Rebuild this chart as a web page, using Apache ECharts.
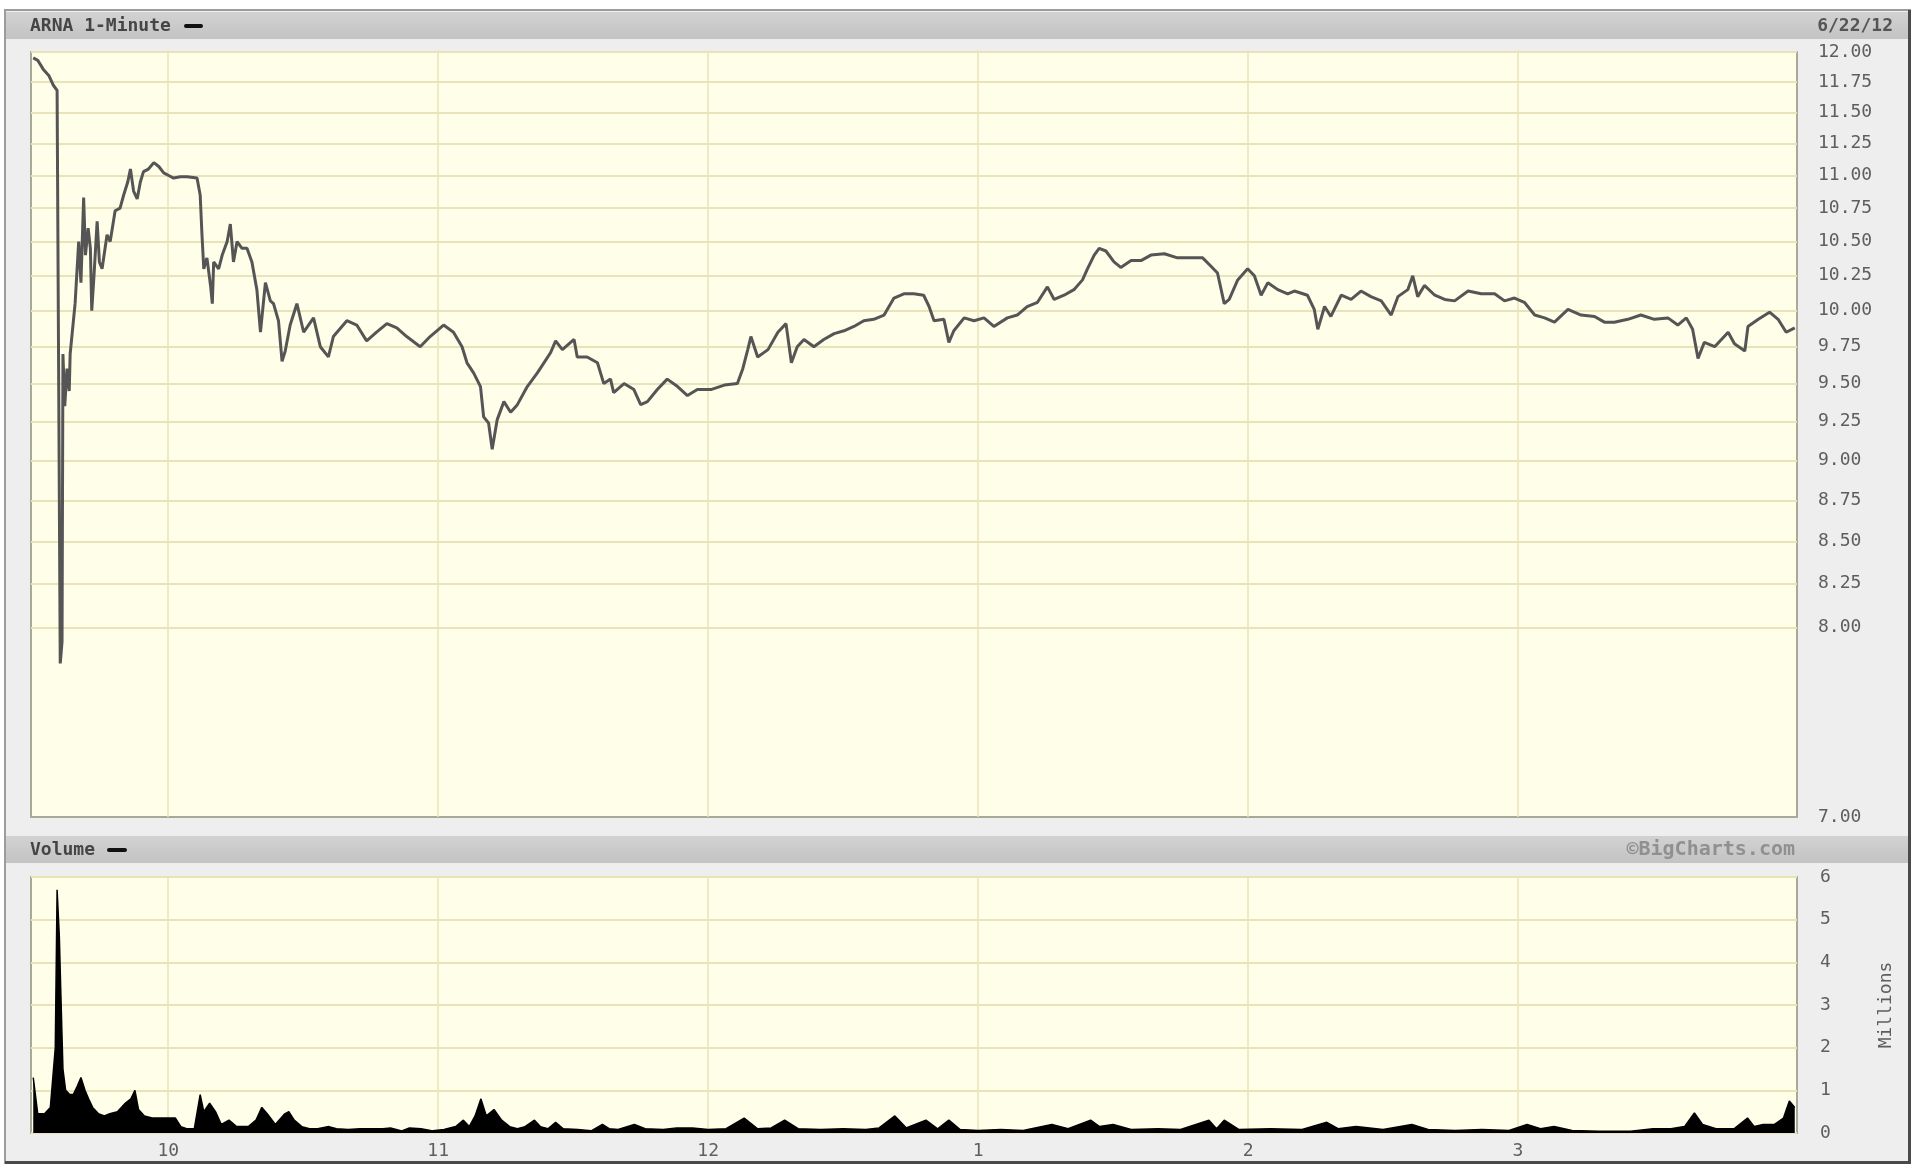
<!DOCTYPE html>
<html><head><meta charset="utf-8">
<script src="https://cdn.jsdelivr.net/npm/echarts@6/dist/echarts.min.js"></script>
<style>html,body{margin:0;padding:0;background:#fff}#c{width:1920px;height:1173px}</style>
</head><body><div id="c"></div>
<script>
// minutes after 9:30 and last price (USD)
const priceMinutes = [0,1,2.3,3.5,4.5,5.3,6,6.4,6.6,7,7.5,8,8.2,9.3,10.1,10.6,11.2,11.6,12.2,12.7,13,13.5,14.2,14.7,15.3,16.4,17.1,18.2,19.3,20.1,21,21.6,22.3,23.1,23.8,24.5,25.6,26.8,27.9,29,30.1,31.2,32.7,34.2,36.4,37.1,37.5,37.9,38.6,39.4,39.8,40.1,41.2,42,43.1,43.8,44.5,45.3,46.4,47.5,48.6,49.7,50.5,51.6,52.7,53.4,54.5,55.3,56,57.1,58.6,60.1,62.3,63.8,65.6,66.7,69.7,71.9,74.1,76.3,78.6,80.8,83,86,88.2,91.2,93.4,95.3,96.4,97.9,99.4,100.1,101.2,102,103.1,104.6,106.1,107.6,109.8,112,113.5,115,116.1,117.6,120.2,120.9,123.1,125.4,126.8,128.3,129,131.3,133.5,135,136.5,138.7,140.9,143.2,145.4,147.6,150.6,153.6,156.5,157.7,158.8,159.5,161,163.3,165.5,167.3,168.5,169.8,171.3,173.5,175.7,178,180.2,182.4,184.6,186.8,189.1,191.3,193.5,195.7,197.9,199.1,200.2,202.4,203.5,204.6,206.9,209.1,211.3,213.5,216.5,218.7,220.9,223.2,225.4,226.9,229.1,231.3,233.2,234.3,235.8,236.9,238.4,240.2,241.7,244,246.2,248.4,251.4,254.3,257.3,259.9,261.7,263.2,264.7,265.8,267.7,269.9,271.4,272.9,274.4,276.6,278.8,280.3,283.2,284.7,285.5,287,288.4,290.7,292.9,295.1,297.3,299.6,301.8,303.3,305.5,306.6,307.7,309.2,311.5,313.7,315.9,318.9,321.8,324.8,327,329.2,331.4,333.7,335.9,338.1,341.1,344,347,349.2,351.4,354.4,357.3,360.3,363.3,365.5,367.4,368.8,370,371.4,373.7,376.7,378.1,380.4,381.1,383.4,385.9,387.8,389.6,391.5];
const prices = [11.95,11.93,11.85,11.8,11.72,11.68,7.8,7.92,9.7,9.35,9.6,9.45,9.7,10.05,10.5,10.2,10.83,10.4,10.6,10.45,10.0,10.25,10.65,10.35,10.3,10.55,10.5,10.73,10.75,10.85,10.95,11.05,10.88,10.82,10.95,11.03,11.05,11.1,11.07,11.02,11.0,10.98,10.99,10.99,10.98,10.85,10.55,10.3,10.38,10.18,10.05,10.35,10.3,10.4,10.5,10.63,10.35,10.5,10.45,10.45,10.35,10.15,9.85,10.2,10.07,10.05,9.93,9.65,9.72,9.9,10.05,9.85,9.95,9.75,9.68,9.82,9.93,9.9,9.79,9.85,9.91,9.88,9.82,9.75,9.82,9.9,9.85,9.75,9.64,9.57,9.48,9.28,9.24,9.07,9.26,9.38,9.31,9.36,9.48,9.57,9.64,9.71,9.79,9.73,9.8,9.68,9.68,9.64,9.5,9.53,9.44,9.5,9.46,9.36,9.38,9.46,9.53,9.48,9.42,9.46,9.46,9.49,9.5,9.6,9.73,9.82,9.68,9.73,9.85,9.91,9.64,9.75,9.8,9.75,9.8,9.84,9.86,9.89,9.93,9.94,9.97,10.09,10.12,10.12,10.11,10.03,9.93,9.94,9.78,9.86,9.95,9.93,9.95,9.89,9.95,9.97,10.03,10.06,10.17,10.08,10.11,10.15,10.22,10.3,10.4,10.45,10.43,10.35,10.31,10.36,10.36,10.4,10.41,10.38,10.38,10.38,10.32,10.27,10.05,10.08,10.22,10.3,10.25,10.11,10.2,10.15,10.12,10.14,10.11,10.01,9.87,10.03,9.96,10.11,10.08,10.14,10.1,10.07,9.97,10.1,10.15,10.25,10.1,10.18,10.11,10.08,10.07,10.14,10.12,10.12,10.07,10.09,10.06,9.97,9.95,9.92,10.01,9.97,9.96,9.92,9.92,9.94,9.97,9.94,9.95,9.9,9.95,9.87,9.67,9.78,9.75,9.85,9.77,9.72,9.89,9.94,9.99,9.94,9.85,9.88];
// minutes after 9:30 and volume (millions)
const volumeMinutes = [0,1,2.5,3.8,4.9,5.3,5.8,6.1,6.6,7.2,8.1,8.9,9.8,10.6,11.5,12.3,13.2,14.5,15.8,17,18.7,20.5,21.7,22.6,23.4,24.7,26.4,28.1,29.9,31.6,32.8,34.1,35.8,37.1,37.9,39.2,40.5,41.8,43.5,45.2,47.8,49.5,50.8,52,53.8,55.9,56.8,58,59.7,61.4,63.2,65.7,67.4,70,72.6,75.1,77.7,79.4,81.9,83.6,86.2,88.8,91.3,93.9,95.6,96.9,98.2,99.5,100.7,102.4,104.1,105.9,107.6,109.3,111.4,112.7,114.4,116.1,117.8,121,124,126.5,128,130,133.6,136,140,143,146.5,150,154,158,161,164,167,170,175,180,185,188,191.5,194,198.4,201,203.5,206,210,215,220,226.4,230,235,237,240,244,250,255,261.3,263,264.7,268,275,282,287.5,290,294,300,306.4,310,316,322,328,332,335,338,342,348,355,360,364,367,369.2,371,374,378,381,382.5,384.5,387,389,390.3,391.5];
const volumes = [1.3,0.45,0.45,0.6,2.0,5.7,4.6,3.4,1.5,1.0,0.9,0.9,1.1,1.3,1.0,0.8,0.6,0.45,0.4,0.45,0.5,0.7,0.8,1.0,0.55,0.4,0.35,0.35,0.35,0.35,0.15,0.1,0.1,0.9,0.5,0.7,0.5,0.2,0.3,0.15,0.15,0.3,0.6,0.45,0.2,0.45,0.5,0.3,0.15,0.1,0.1,0.15,0.1,0.08,0.1,0.1,0.1,0.12,0.05,0.12,0.1,0.05,0.08,0.15,0.3,0.15,0.4,0.8,0.4,0.55,0.3,0.15,0.1,0.15,0.3,0.15,0.1,0.25,0.1,0.08,0.05,0.2,0.1,0.08,0.2,0.1,0.08,0.12,0.12,0.08,0.1,0.35,0.1,0.12,0.3,0.1,0.08,0.1,0.08,0.12,0.4,0.12,0.3,0.1,0.3,0.08,0.06,0.08,0.06,0.2,0.1,0.3,0.15,0.2,0.08,0.1,0.08,0.3,0.1,0.3,0.08,0.1,0.08,0.25,0.1,0.15,0.08,0.2,0.08,0.06,0.08,0.06,0.2,0.1,0.15,0.06,0.04,0.04,0.1,0.1,0.15,0.47,0.2,0.1,0.1,0.35,0.15,0.2,0.2,0.35,0.75,0.6];
const hourTicks = [30, 90, 150, 210, 270, 330];
const hourLabels = ['10', '11', '12', '1', '2', '3'];
const priceLabelValues = [7, 8, 8.25, 8.5, 8.75, 9, 9.25, 9.5, 9.75, 10, 10.25, 10.5, 10.75, 11, 11.25, 11.5, 11.75, 12];
const priceGridValues = [8, 8.25, 8.5, 8.75, 9, 9.25, 9.5, 9.75, 10, 10.25, 10.5, 10.75, 11, 11.25, 11.5, 11.75, 12];
const volumeTicks = [0, 1, 2, 3, 4, 5, 6];

const FONT = '"DejaVu Sans Mono", monospace';
const GRIDC = '#e8e3b8';
const LABC = '#5e5e5e';
const pricePairs = priceMinutes.map((m, i) => [m, prices[i]]);
const volPairs = volumeMinutes.map((m, i) => [m, volumes[i]]);
const hourFmt = v => { const i = hourTicks.indexOf(Math.round(v)); return i >= 0 ? hourLabels[i] : ''; };

const chart = echarts.init(document.getElementById('c'));
chart.setOption({
  animation: false,
  backgroundColor: '#ffffff',
  grid: [
    {left: 31, top: 52, right: 123, height: 765, show: true, backgroundColor: '#fffee9', borderColor: '#a9a99a', borderWidth: 2},
    {left: 31, top: 877, right: 123, height: 256, show: true, backgroundColor: '#fffee9', borderColor: '#a9a99a', borderWidth: 2}
  ],
  xAxis: [
    {type: 'value', gridIndex: 0, min: -0.5, max: 392,
     axisLine: {show: false}, axisTick: {show: false, customValues: hourTicks},
     axisLabel: {show: false, customValues: hourTicks},
     splitLine: {show: true, lineStyle: {color: GRIDC, width: 1.5}}},
    {type: 'value', gridIndex: 1, min: -0.5, max: 392,
     axisLine: {show: false}, axisTick: {show: false, customValues: hourTicks},
     axisLabel: {show: true, customValues: hourTicks, formatter: hourFmt, margin: 9,
       fontFamily: FONT, fontSize: 18, color: LABC},
     splitLine: {show: true, lineStyle: {color: GRIDC, width: 1.5}}}
  ],
  yAxis: [
    {type: 'log', logBase: 10, gridIndex: 0, position: 'right', min: 7, max: 12,
     axisLine: {show: false}, axisTick: {show: false, customValues: priceGridValues},
     axisLabel: {show: true, customValues: priceLabelValues, formatter: v => Number(v).toFixed(2),
       margin: 21, fontFamily: FONT, fontSize: 18, color: LABC},
     splitLine: {show: true, lineStyle: {color: GRIDC, width: 2}}},
    {type: 'value', gridIndex: 1, position: 'right', min: 0, max: 6, interval: 1,
     axisLine: {show: false}, axisTick: {show: false},
     axisLabel: {show: true, margin: 23, fontFamily: FONT, fontSize: 18, color: LABC},
     splitLine: {show: true, lineStyle: {color: GRIDC, width: 2}},
     name: 'Millions', nameLocation: 'middle', nameGap: 80, nameRotate: 90,
     nameTextStyle: {fontFamily: FONT, fontSize: 18, color: LABC}}
  ],
  graphic: [
    {type: 'rect', z: -50, shape: {x: 5, y: 10, width: 1905, height: 1153}, style: {fill: '#eeeeee', stroke: '#9c9c9c', lineWidth: 2}},
    {type: 'rect', z: -49, shape: {x: 1908, y: 10, width: 3, height: 1154}, style: {fill: '#4a4a4a'}},
    {type: 'rect', z: -49, shape: {x: 5, y: 1161, width: 1906, height: 3}, style: {fill: '#4a4a4a'}},
    {type: 'rect', z: -48, shape: {x: 6, y: 12, width: 1902, height: 27},
     style: {fill: new echarts.graphic.LinearGradient(0, 0, 0, 1, [{offset: 0, color: '#d2d2d2'}, {offset: 1, color: '#c3c3c3'}])}},
    {type: 'rect', z: -48, shape: {x: 6, y: 836, width: 1902, height: 27},
     style: {fill: new echarts.graphic.LinearGradient(0, 0, 0, 1, [{offset: 0, color: '#d2d2d2'}, {offset: 1, color: '#c3c3c3'}])}},
    {type: 'text', z: 10, x: 30, y: 26, style: {text: 'ARNA 1-Minute', font: 'bold 18px ' + FONT, fill: '#454545', textVerticalAlign: 'middle'}},
    {type: 'rect', z: 10, shape: {x: 184, y: 24, width: 19, height: 4, r: 2}, style: {fill: '#111'}},
    {type: 'text', z: 10, x: 1893, y: 26, style: {text: '6/22/12', font: 'bold 18px ' + FONT, fill: '#555', textAlign: 'right', textVerticalAlign: 'middle'}},
    {type: 'text', z: 10, x: 30, y: 850, style: {text: 'Volume', font: 'bold 18px ' + FONT, fill: '#454545', textVerticalAlign: 'middle'}},
    {type: 'rect', z: 10, shape: {x: 107, y: 848, width: 20, height: 4, r: 2}, style: {fill: '#111'}},
    {type: 'text', z: 10, x: 1795, y: 850, style: {text: '©BigCharts.com', font: 'bold 20px ' + FONT, fill: '#909090', textAlign: 'right', textVerticalAlign: 'middle'}}
  ],
  series: [
    {type: 'line', name: 'ARNA', xAxisIndex: 0, yAxisIndex: 0, data: pricePairs, symbol: 'none',
     lineStyle: {color: '#555555', width: 3}, z: 5},
    {type: 'line', name: 'Volume', xAxisIndex: 1, yAxisIndex: 1, data: volPairs, symbol: 'none',
     lineStyle: {color: '#000', width: 1.5}, areaStyle: {color: '#000', opacity: 1}, z: 5}
  ]
});
</script></body></html>
